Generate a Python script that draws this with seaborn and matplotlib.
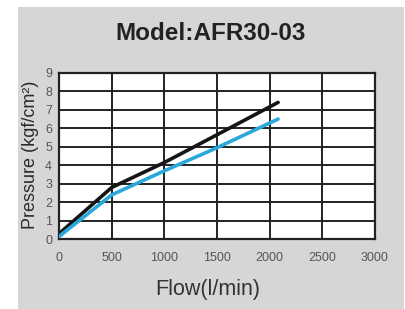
import matplotlib.pyplot as plt
import matplotlib.patches as mpatches
import pandas as pd
import seaborn as sns

# Values
flow = [0, 500, 1000, 1500, 2080]
pressure_black = [0.3, 2.8, 4.15, 5.65, 7.4]
pressure_blue = [0.15, 2.4, 3.7, 4.95, 6.5]
x_ticks = [0, 500, 1000, 1500, 2000, 2500, 3000]
y_ticks = list(range(0, 10))

df = pd.DataFrame({
    "flow": flow + flow,
    "pressure": pressure_black + pressure_blue,
    "curve": ["black"] * len(flow) + ["blue"] * len(flow),
})

sns.set_style("white")
plt.rcParams["font.family"] = ["Liberation Sans", "DejaVu Sans"]

fig = plt.figure(figsize=(4.06, 3.09), dpi=100)
fig.patch.set_facecolor("white")
# gray panel behind the chart
panel = mpatches.Rectangle((18 / 406, 0), 386 / 406, 302 / 309,
                           transform=fig.transFigure,
                           facecolor="#d6d6d6", edgecolor="none", zorder=-5)
fig.add_artist(panel)

ax = fig.add_axes([59 / 406, 69.7 / 309, 316 / 406, 166.5 / 309])
ax.set_facecolor("white")

sns.lineplot(data=df, x="flow", y="pressure", hue="curve",
             palette={"black": "#151515", "blue": "#2aa8dc"},
             linewidth=2.6, legend=False, ax=ax, zorder=3)

ax.set_xlim(0, 3000)
ax.set_ylim(0, 9)
ax.set_xticks(x_ticks)
ax.set_yticks(y_ticks)
ax.grid(True, color="#222222", linewidth=1.4)
for s in ax.spines.values():
    s.set_color("#222222")
    s.set_linewidth(1.6)
ax.tick_params(length=0, labelsize=9, colors="#555555")
ax.tick_params(axis="x", pad=9)
ax.tick_params(axis="y", pad=5)

ax.set_xlabel("Flow(l/min)", fontsize=15.5, color="#333333")
ax.xaxis.set_label_coords((208 - 59) / 316, -(290 - 239.3) / 166.5)
ax.xaxis.label.set_va("center")
ax.set_ylabel("Pressure (kgf/cm²)", fontsize=13, color="#2a2a2a")
ax.yaxis.set_label_coords(-(59 - 31) / 316, (239.3 - 155) / 166.5)
ax.yaxis.label.set_va("center")
fig.text(211 / 406, 1 - 33 / 309, "Model:AFR30-03", ha="center", va="center",
         fontsize=17.5, fontweight="bold", color="#222222")

fig.savefig("out.png", dpi=100)
